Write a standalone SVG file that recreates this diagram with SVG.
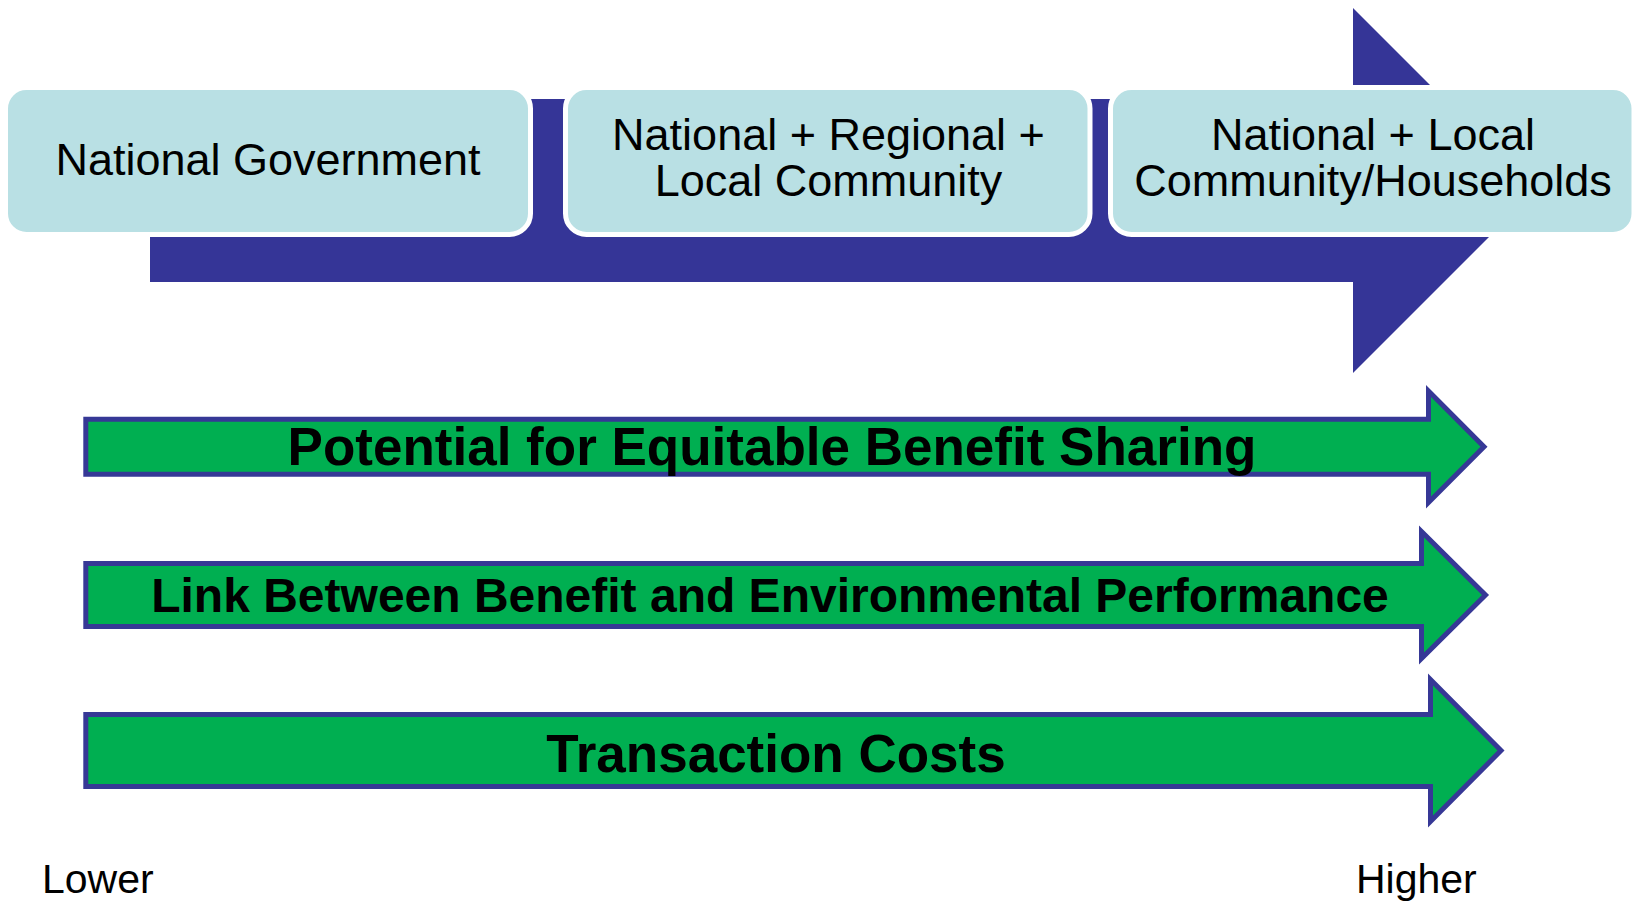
<svg xmlns="http://www.w3.org/2000/svg" width="1634" height="902" viewBox="0 0 1634 902">
  <style>
    .box { fill: #b9e0e4; stroke: #ffffff; stroke-width: 5; }
    .boxText { font-family: "Liberation Sans", Arial, sans-serif; font-size: 45px; fill: #000000; text-anchor: middle; }
    .bar { fill: #00af51; stroke: #363896; stroke-width: 5; stroke-linejoin: miter; stroke-miterlimit: 10; }
    .barText { font-family: "Liberation Sans", Arial, sans-serif; font-weight: bold; fill: #000000; text-anchor: middle; }
    .axisText { font-family: "Liberation Sans", Arial, sans-serif; font-size: 41px; fill: #000000; }
  </style>
  <rect width="1634" height="902" fill="#ffffff"/>

  <!-- big blue process arrow behind the stage boxes -->
  <g id="connectors">
    <path id="process-arrow" d="M150,99 H1353 V8 L1535.5,190.5 L1353,373 V282 H150 Z" fill="#353597"/>
  </g>

  <!-- stage boxes -->
  <g id="stage-national">
    <rect class="box" x="5.5" y="87.5" width="525" height="147" rx="21" ry="21"/>
    <text class="boxText" x="268" y="175">National Government</text>
  </g>
  <g id="stage-regional">
    <rect class="box" x="565.5" y="87.5" width="524.5" height="147" rx="21" ry="21"/>
    <text class="boxText" x="828.5" y="150">National + Regional +</text>
    <text class="boxText" x="828.5" y="196">Local Community</text>
  </g>
  <g id="stage-local">
    <rect class="box" x="1110.5" y="87.5" width="523.5" height="147" rx="21" ry="21"/>
    <text class="boxText" x="1373" y="150">National + Local</text>
    <text class="boxText" x="1373" y="196">Community/Households</text>
  </g>

  <!-- green trend arrows -->
  <g id="trend-benefit-sharing">
    <path class="bar" d="M85.8,419.2 H1428.5 V391 L1484,446.7 L1428.5,502.5 V474.2 H85.8 Z"/>
    <text class="barText" x="772" y="465" font-size="53">Potential for Equitable Benefit Sharing</text>
  </g>
  <g id="trend-performance-link">
    <path class="bar" d="M85.8,563.5 H1421.5 V531.5 L1485.5,595 L1421.5,658.5 V626.5 H85.8 Z"/>
    <text class="barText" x="770" y="611.7" font-size="48">Link Between Benefit and Environmental Performance</text>
  </g>
  <g id="trend-transaction-costs">
    <path class="bar" d="M85.8,714.5 H1430.5 V679.5 L1501,750.5 L1430.5,821.5 V786.5 H85.8 Z"/>
    <text class="barText" x="776" y="771.7" font-size="53">Transaction Costs</text>
  </g>

  <!-- scale ends -->
  <g id="scale-lower">
    <text class="axisText" x="42" y="893">Lower</text>
  </g>
  <g id="scale-higher">
    <text class="axisText" x="1356" y="893">Higher</text>
  </g>
</svg>
